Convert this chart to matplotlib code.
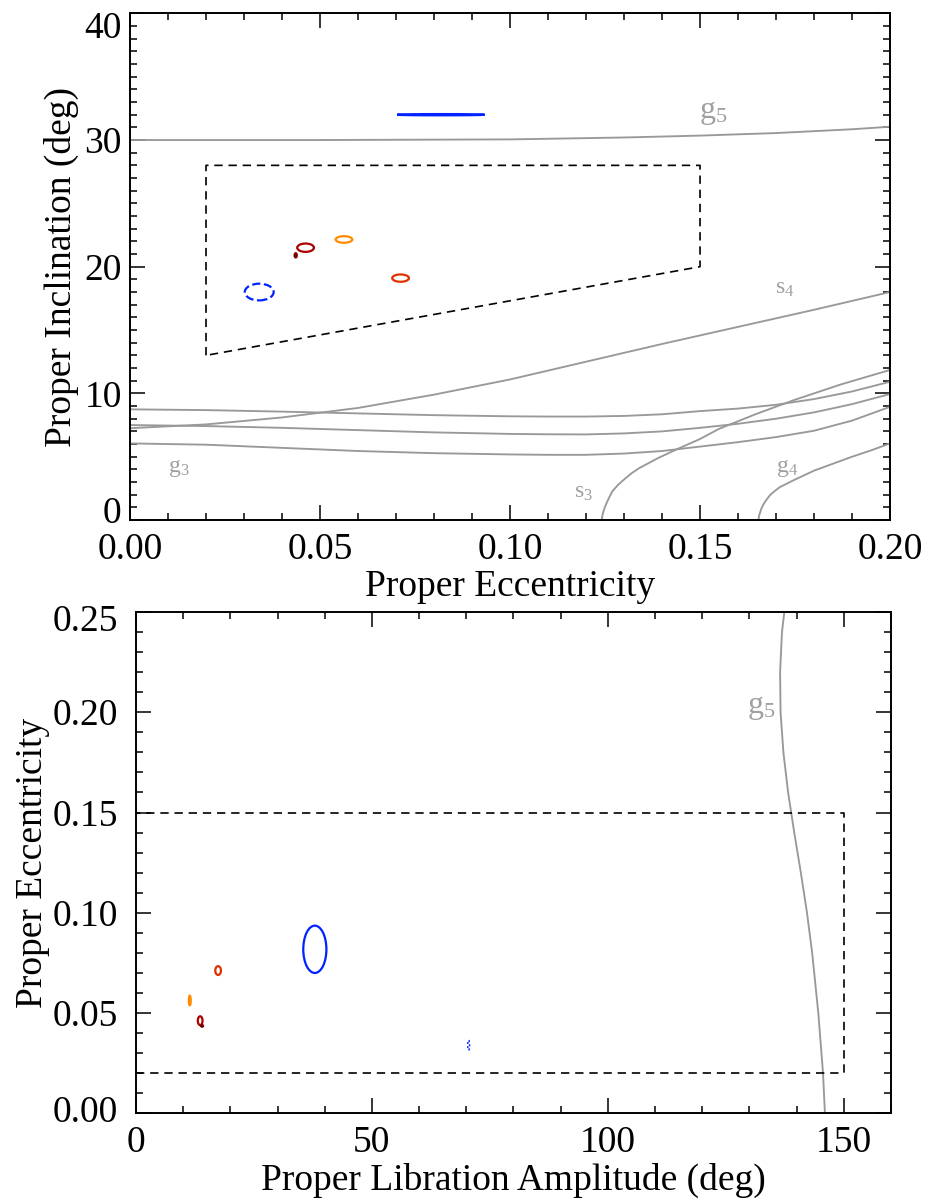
import numpy as np
import matplotlib
matplotlib.use('Agg')
import matplotlib.pyplot as plt
from matplotlib.patches import Ellipse
from matplotlib.ticker import MultipleLocator, FormatStrFormatter
from matplotlib.transforms import ScaledTranslation

plt.rcParams['font.family'] = ['Liberation Serif', 'DejaVu Serif']
plt.rcParams['mathtext.fontset'] = 'custom'
plt.rcParams['mathtext.rm'] = 'Liberation Serif'
plt.rcParams['mathtext.it'] = 'Liberation Serif'

# ---- top panel: proper e vs proper i ----
e_grid = [0.0, 0.02, 0.04, 0.06, 0.08, 0.10, 0.11, 0.12, 0.13, 0.14, 0.15, 0.16, 0.17, 0.18, 0.19, 0.20]
i_flat_top = [8.74, 8.68, 8.56, 8.42, 8.28, 8.19, 8.17, 8.17, 8.22, 8.35, 8.6, 8.8, 9.1, 9.55, 10.15, 10.92]
i_flat_mid = [7.5, 7.42, 7.28, 7.1, 6.92, 6.8, 6.77, 6.76, 6.84, 7.0, 7.28, 7.6, 8.0, 8.5, 9.15, 9.95]
i_flat_low = [6.05, 5.95, 5.7, 5.45, 5.28, 5.18, 5.15, 5.15, 5.25, 5.45, 5.8, 6.15, 6.55, 7.05, 7.85, 8.94]
e_s4 = [0.0, 0.02, 0.04, 0.06, 0.08, 0.10, 0.12, 0.14, 0.16, 0.18, 0.20]
i_s4 = [7.25, 7.55, 8.1, 8.85, 9.9, 11.1, 12.5, 13.9, 15.25, 16.6, 18.0]

e_g5 = [0.0, 0.05, 0.10, 0.13, 0.15, 0.17, 0.19, 0.20]
i_g5 = [30.0, 30.0, 30.05, 30.2, 30.35, 30.55, 30.85, 31.05]

e_s3 = [0.1241, 0.1243, 0.1246, 0.1250, 0.1255, 0.1262, 0.127, 0.1285, 0.130, 0.132, 0.134,
        0.1365, 0.139, 0.144, 0.150, 0.155, 0.165, 0.175, 0.187, 0.200]
i_s3 = [0.0, 0.35, 0.7, 1.05, 1.4, 1.85, 2.3, 2.8, 3.2, 3.7, 4.1, 4.5, 4.9, 5.6, 6.4, 7.2,
        8.4, 9.5, 10.7, 11.85]

e_g4 = [0.1654, 0.1655, 0.1658, 0.1662, 0.1668, 0.1676, 0.1685, 0.1697, 0.171, 0.173, 0.175,
        0.1775, 0.180, 0.185, 0.190, 0.195, 0.200]
i_g4 = [0.0, 0.3, 0.6, 0.95, 1.3, 1.65, 2.0, 2.3, 2.6, 2.9, 3.2, 3.55, 3.9, 4.45, 5.0, 5.5, 6.05]

box_e = [0.02, 0.02, 0.15, 0.15, 0.02]
box_i = [13.0, 28.0, 28.0, 20.0, 13.0]

# objects: colour, proper e, proper i, proper libration amplitude, half-widths
obj_colors = ['#0022ff', '#0022ff', '#aa0000', '#ff8c00', '#dd3300', '#7a0000']
obj_styles = ['solid', 'dashed', 'solid', 'solid', 'solid', 'solid']
obj_lw = [1.6, 1.6, 1.6, 1.6, 1.6, 1.0]
obj_e = [0.0818, 0.0340, 0.0462, 0.0563, 0.0712, 0.0436]
obj_i = [32.0, 18.0, 21.5, 22.15, 19.1, 20.9]
obj_de = [0.0115, 0.0038, 0.0022, 0.0022, 0.0022, 0.0004]
obj_di = [0.05, 0.66, 0.33, 0.26, 0.29, 0.2]
obj_amp = [37.9, 70.5, 13.6, 11.4, 17.4, 14.0]
obj_damp = [2.45, 0.2, 0.5, 0.2, 0.6, 0.3]
obj_de2 = [0.0118, 0.0025, 0.0022, 0.0024, 0.0022, 0.0006]

# ---- bottom panel: libration amplitude vs e ----
amp_g5 = [146.0, 145.6, 144.6, 143.3, 142.2, 140.9, 139.5, 138.2, 137.2, 136.6, 136.5, 136.9, 137.4]
ecc_g5 = [0.0, 0.02, 0.05, 0.08, 0.10, 0.12, 0.14, 0.16, 0.18, 0.20, 0.22, 0.24, 0.25]
box_amp = [0.0, 150.0, 150.0, 0.0]
box_ecc = [0.02, 0.02, 0.15, 0.15]

top_xticks = [0.0, 0.05, 0.10, 0.15, 0.20]
top_yticks = [0, 10, 20, 30, 40]
bot_xticks = [0, 50, 100, 150]
bot_yticks = [0.0, 0.05, 0.10, 0.15, 0.20, 0.25]

gray = '#999999'
lab_gray = '#a0a0a0'
fs = 27

fig = plt.figure(figsize=(9.36, 12.03), dpi=100)
ax1 = fig.add_axes([0.1389, 0.5677, 0.812, 0.4212])
ax2 = fig.add_axes([0.1453, 0.0745, 0.8066, 0.4168])

def style(ax):
    for s in ax.spines.values():
        s.set_linewidth(1.4)
    ax.tick_params(which='both', direction='in', top=True, right=True,
                   labelsize=fs, width=1.1)
    ax.tick_params(which='major', length=10.5, pad=9)
    ax.tick_params(which='minor', length=5)

def nudge(tick, dy_px):
    lab = tick.label1
    lab.set_transform(lab.get_transform() + ScaledTranslation(0, dy_px / 100.0, fig.dpi_scale_trans))

# top panel
for arr in [i_flat_top, i_flat_mid, i_flat_low]:
    ax1.plot(e_grid, arr, color=gray, lw=1.35)
ax1.plot(e_s4, i_s4, color=gray, lw=1.35)
ax1.plot(e_g5, i_g5, color=gray, lw=1.35)
ax1.plot(e_s3, i_s3, color=gray, lw=1.35)
ax1.plot(e_g4, i_g4, color=gray, lw=1.35)
ax1.plot(box_e, box_i, color='black', lw=1.2, dashes=(5, 3.5))

for c, ls, w, e, i, de, di in zip(obj_colors, obj_styles, obj_lw, obj_e, obj_i, obj_de, obj_di):
    ax1.add_patch(Ellipse((e, i), 2 * de, 2 * di, fill=(c == '#7a0000'),
                          edgecolor=c, facecolor=c, lw=w, linestyle=ls))

ax1.text(0.1534, 32.2, 'g$_5$', color=lab_gray, fontsize=23, ha='center', va='center')
ax1.text(0.1724, 18.3, 's$_4$', color=lab_gray, fontsize=17, ha='center', va='center')
ax1.text(0.0129, 4.1, 'g$_3$', color=lab_gray, fontsize=17, ha='center', va='center')
ax1.text(0.1192, 2.2, 's$_3$', color=lab_gray, fontsize=17, ha='center', va='center')
ax1.text(0.1729, 4.1, 'g$_4$', color=lab_gray, fontsize=17, ha='center', va='center')

ax1.set_xlim(0, 0.20)
ax1.set_ylim(0, 40)
ax1.set_xticks(top_xticks)
ax1.set_yticks(top_yticks)
ax1.xaxis.set_minor_locator(MultipleLocator(0.01))
ax1.xaxis.set_major_formatter(FormatStrFormatter('%.2f'))
ax1.yaxis.set_minor_locator(MultipleLocator(1))
style(ax1)
ax1.tick_params(axis='y', pad=6)
ax1.set_xlabel('Proper Eccentricity', fontsize=fs, labelpad=2)
ax1.set_ylabel('Proper Inclination (deg)', fontsize=fs, labelpad=4)

# bottom panel
ax2.plot(amp_g5, ecc_g5, color=gray, lw=1.35)
ax2.plot(box_amp, box_ecc, color='black', lw=1.2, dashes=(5, 3.5))
for c, ls, w, a, e, da, de in zip(obj_colors, obj_styles, obj_lw, obj_amp, obj_e, obj_damp, obj_de2):
    ax2.add_patch(Ellipse((a, e), 2 * da, 2 * de, fill=(c == '#7a0000'),
                          edgecolor=c, facecolor=c, lw=(1.0 if ls == 'dashed' else w),
                          linestyle=(ls if ls != 'dashed' else (0, (1.5, 1.5)))))
ax2.text(132.6, 0.2025, 'g$_5$', color=lab_gray, fontsize=23, ha='center', va='center')

ax2.set_xlim(0, 160)
ax2.set_ylim(0, 0.25)
ax2.set_xticks(bot_xticks)
ax2.set_yticks(bot_yticks)
ax2.xaxis.set_minor_locator(MultipleLocator(10))
ax2.yaxis.set_minor_locator(MultipleLocator(0.01))
ax2.yaxis.set_major_formatter(FormatStrFormatter('%.2f'))
style(ax2)
ax2.tick_params(axis='y', pad=13)
ax2.set_xlabel('Proper Libration Amplitude (deg)', fontsize=fs, labelpad=2)
ax2.set_ylabel('Proper Eccentricity', fontsize=fs, labelpad=2)

# shift the end labels on the y axes as in the original
yt1 = ax1.yaxis.get_major_ticks()
nudge(yt1[0], 10)
nudge(yt1[-1], -11)
yt2 = ax2.yaxis.get_major_ticks()
nudge(yt2[0], 5)
nudge(yt2[-1], -6)

fig.savefig('out.png', dpi=100)
